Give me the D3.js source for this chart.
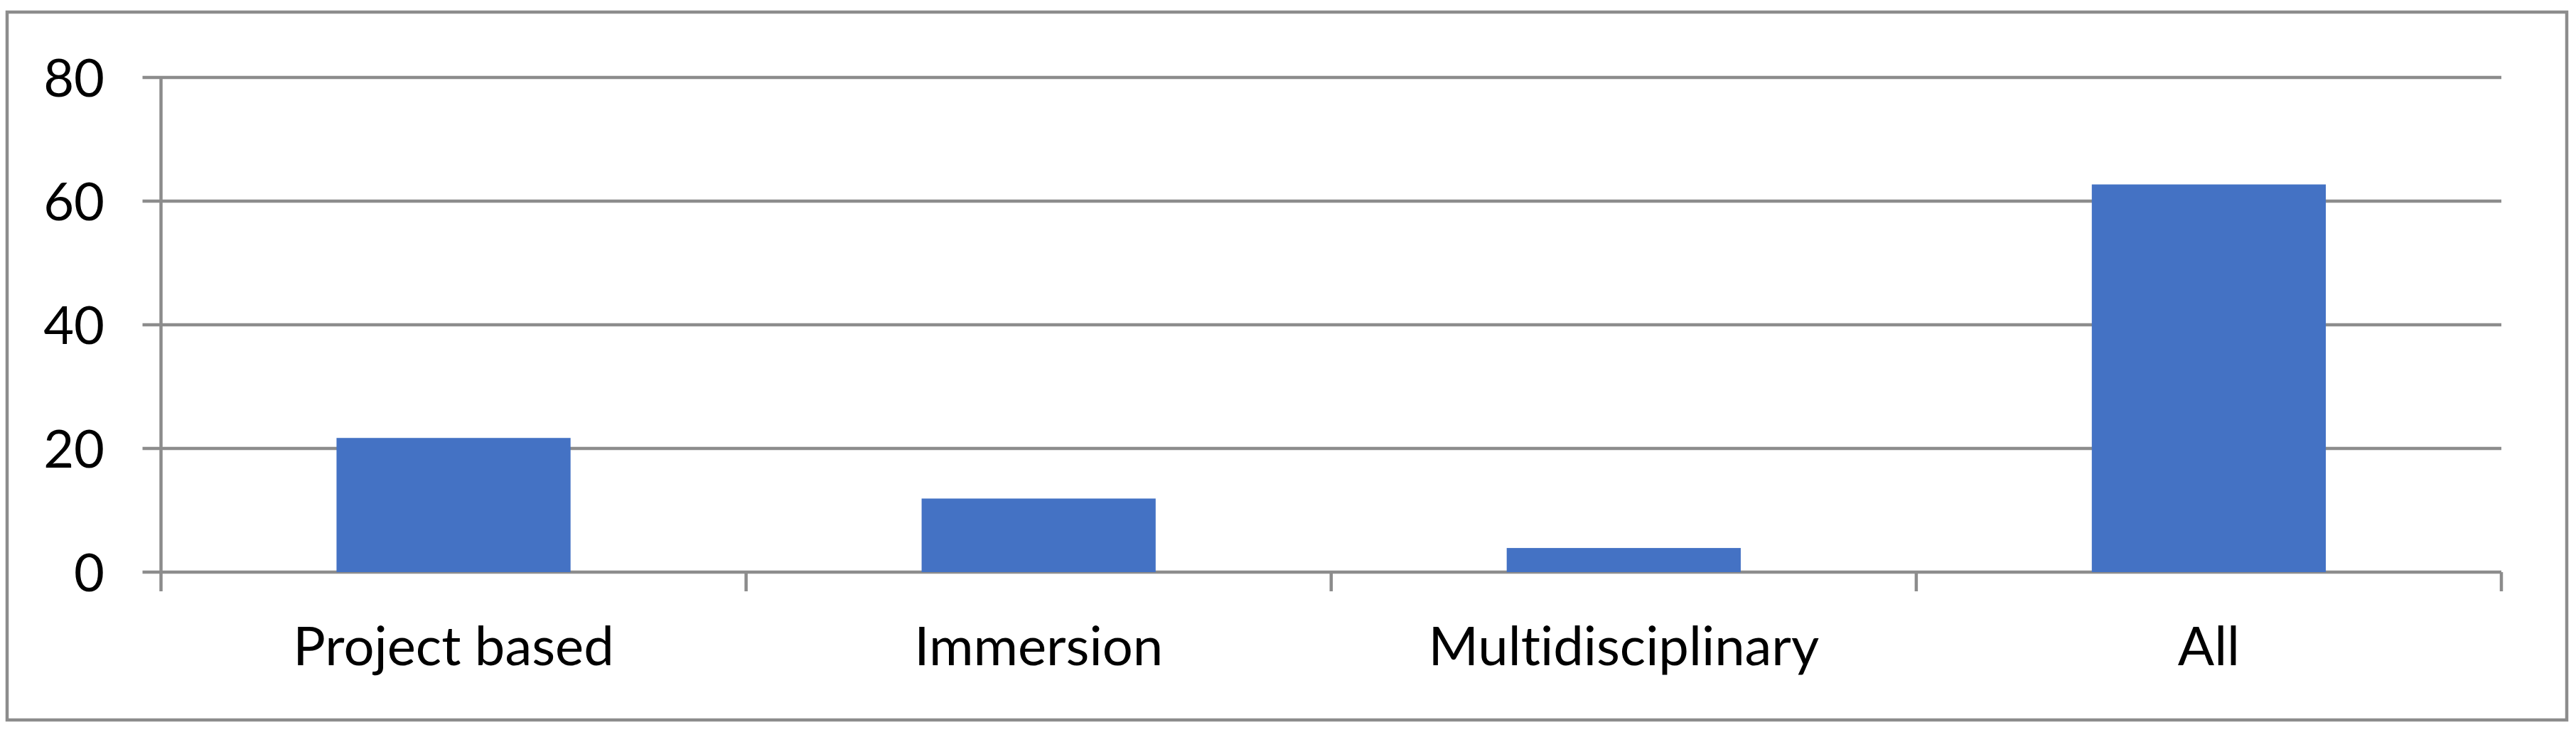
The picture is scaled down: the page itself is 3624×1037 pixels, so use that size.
<!DOCTYPE html>
<html>
<head>
<meta charset="utf-8">
<script src="https://cdn.jsdelivr.net/npm/d3@7"></script>
<style>
  html, body { margin: 0; padding: 0; background: #ffffff; }
  svg { display: block; }
  text { font-variant-ligatures: none; }
</style>
</head>
<body>
<div id="chart"></div>
<script>
const categories = ['Project based', 'Immersion', 'Multidisciplinary', 'All'];
const values = [21.7, 11.9, 3.9, 62.7];
const yTicks = [0, 20, 40, 60, 80];

const W = 3624;
const H = 1037;

const color = {
  bar: '#4472c4',
  line: '#8c8c8c',
  text: '#000000'
};

const margin = { top: 109, right: 105, bottom: 232, left: 226.5 };
const width = W - margin.left - margin.right;
const height = H - margin.top - margin.bottom;

const root = d3.select('#chart')
  .append('svg')
  .attr('width', W)
  .attr('height', H);

// outer chart frame
root.append('rect')
  .attr('x', 10)
  .attr('y', 17)
  .attr('width', 3601)
  .attr('height', 996)
  .attr('fill', 'none')
  .attr('stroke', color.line)
  .attr('stroke-width', 4.5);

const svg = root.append('g')
  .attr('transform', `translate(${margin.left}, ${margin.top})`);

const x = d3.scaleBand()
  .domain(categories)
  .range([0, width])
  .paddingInner(0.6)
  .paddingOuter(0.3);

// boundaries between categories, for the tick marks
const xEdge = d3.scaleLinear()
  .domain([0, categories.length])
  .range([0, width]);

const y = d3.scaleLinear()
  .domain([0, 80])
  .range([height, 0]);

// horizontal gridlines
svg.append('g')
  .selectAll('line')
  .data(yTicks)
  .enter()
  .append('line')
  .attr('x1', -26)
  .attr('x2', width)
  .attr('y1', (d) => y(d))
  .attr('y2', (d) => y(d))
  .attr('stroke', color.line)
  .attr('stroke-width', 4.5);

// y axis line
svg.append('line')
  .attr('x1', 0)
  .attr('x2', 0)
  .attr('y1', 0)
  .attr('y2', height + 27)
  .attr('stroke', color.line)
  .attr('stroke-width', 4.5);

// category tick marks
svg.append('g')
  .selectAll('line')
  .data(d3.range(1, categories.length + 1))
  .enter()
  .append('line')
  .attr('x1', (d) => xEdge(d))
  .attr('x2', (d) => xEdge(d))
  .attr('y1', height)
  .attr('y2', height + 27)
  .attr('stroke', color.line)
  .attr('stroke-width', 4.5);

// y labels
svg.append('g')
  .selectAll('text')
  .data(yTicks)
  .enter()
  .append('text')
  .attr('x', -79.5)
  .attr('y', (d) => y(d))
  .attr('dy', '0.36em')
  .attr('text-anchor', 'end')
  .attr('font-family', 'Lato, "Open Sans", sans-serif')
  .attr('font-size', 74)
  .attr('fill', color.text)
  .text((d) => d);

// bars
svg.selectAll('.bar')
  .data(values)
  .enter()
  .append('rect')
  .attr('class', 'bar')
  .attr('x', (d, i) => x(categories[i]))
  .attr('y', (d) => y(d))
  .attr('width', x.bandwidth())
  .attr('height', (d) => height - y(d))
  .attr('fill', color.bar);

// category labels
svg.append('g')
  .attr('transform', `translate(0, ${height})`)
  .call(d3.axisBottom(x).tickSize(0).tickPadding(0))
  .call((g) => g.select('.domain').remove())
  .selectAll('text')
  .attr('y', 131)
  .attr('dy', 0)
  .attr('font-family', 'Lato, "Open Sans", sans-serif')
  .attr('font-size', 76)
  .attr('fill', color.text);
</script>
</body>
</html>
